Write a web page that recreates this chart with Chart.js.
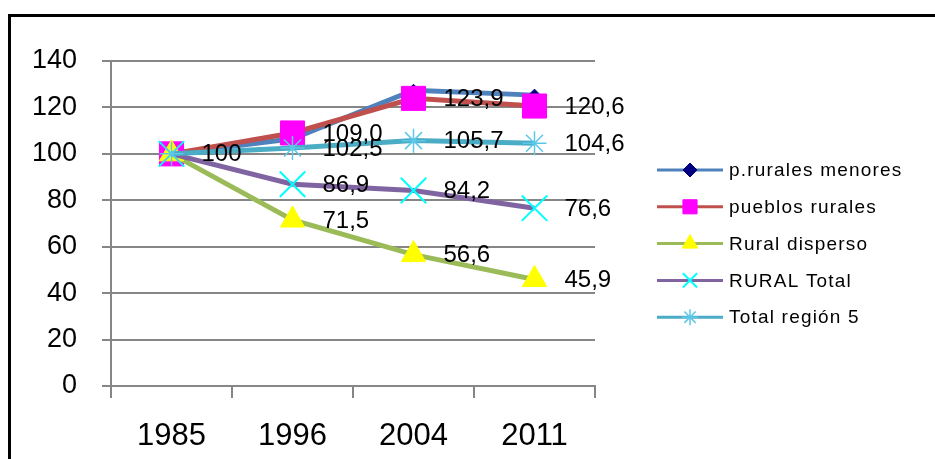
<!DOCTYPE html>
<html>
<head>
<meta charset="utf-8">
<script src="https://cdn.jsdelivr.net/npm/chart.js@4"></script>
<style>
  html, body { margin: 0; padding: 0; background: #fff; }
  #wrap { position: relative; width: 935px; height: 459px; }
</style>
</head>
<body>
<div id="wrap"><canvas id="indexChart" width="935" height="459"></canvas></div>
<script>
// Índice de población (1985 = 100)
const years = ['1985', '1996', '2004', '2011'];
const pRuralesMenores = [100, 106.5, 127.4, 125.3];
const pueblosRurales = [100, 109.0, 123.9, 120.6];
const ruralDisperso = [100, 71.5, 56.6, 45.9];
const ruralTotal = [100, 86.9, 84.2, 76.6];
const totalRegion5 = [100, 102.5, 105.7, 104.6];
const yMin = 0, yMax = 140, yStep = 20;

const FONT = '"Liberation Sans", Arial, sans-serif';
const GRID = '#868686';

const fmt = v => v === 100 ? '100' : v.toFixed(1).replace('.', ',');

// frame round the chart
const framePlugin = {
    id: 'frame',
    beforeDraw(chart) {
        const c = chart.ctx;
        c.save();
        c.fillStyle = '#fff';
        c.fillRect(0, 0, chart.width, chart.height);
        c.strokeStyle = '#000';
        c.lineWidth = 3;
        c.beginPath();
        c.moveTo(9.5, chart.height);
        c.lineTo(9.5, 15.5);
        c.lineTo(chart.width, 15.5);
        c.stroke();
        c.restore();
    }
};

// value labels to the right of the points
const valueLabels = {
    id: 'valueLabels',
    afterDatasetsDraw(chart) {
        const c = chart.ctx;
        const seen = new Set();
        c.save();
        c.font = '24px ' + FONT;
        c.fillStyle = '#000';
        c.textAlign = 'left';
        c.textBaseline = 'middle';
        chart.data.datasets.forEach((ds, i) => {
            if (!ds.showValues) return;
            chart.getDatasetMeta(i).data.forEach((pt, j) => {
                const txt = fmt(ds.data[j]);
                const key = Math.round(pt.x) + ',' + Math.round(pt.y) + ',' + txt;
                if (seen.has(key)) return;
                seen.add(key);
                c.fillText(txt, pt.x + 30, pt.y + 1);
            });
        });
        c.restore();
    }
};

// legend: line with marker, then the series name
const lineLegend = {
    id: 'lineLegend',
    afterDraw(chart) {
        const c = chart.ctx;
        const x0 = 657, x1 = 723, y0 = 170, step = 36.8;
        c.save();
        chart.data.datasets.forEach((ds, i) => {
            const y = y0 + i * step;
            c.strokeStyle = ds.borderColor;
            c.lineWidth = 3;
            c.beginPath();
            c.moveTo(x0, y);
            c.lineTo(x1, y);
            c.stroke();
            c.fillStyle = ds.pointBackgroundColor;
            c.strokeStyle = ds.pointBorderColor;
            c.lineWidth = ds.pointBorderWidth;
            Chart.helpers.drawPoint(c, {
                pointStyle: ds.pointStyle,
                radius: ds.legendRadius,
                rotation: 0,
                borderWidth: ds.pointBorderWidth
            }, (x0 + x1) / 2, y);
            c.fillStyle = '#000';
            c.font = '19px ' + FONT;
            c.letterSpacing = '1.2px';
            c.textAlign = 'left';
            c.textBaseline = 'middle';
            c.fillText(ds.label, 729, y + 1);
        });
        c.restore();
    }
};

const ctx = document.getElementById('indexChart').getContext('2d');
const indexChart = new Chart(ctx, {
    type: 'line',
    data: {
        labels: years,
        datasets: [{
            label: 'p.rurales menores',
            data: pRuralesMenores,
            borderColor: '#4F81BD',
            pointStyle: 'rectRot',
            pointRadius: 6,
            legendRadius: 7,
            pointBackgroundColor: '#000080',
            pointBorderColor: '#000080',
            pointBorderWidth: 1,
            order: 5
        }, {
            label: 'pueblos rurales',
            data: pueblosRurales,
            borderColor: '#C0504D',
            pointStyle: 'rect',
            pointRadius: 17,
            legendRadius: 10,
            pointBackgroundColor: '#FF00FF',
            pointBorderColor: '#FF00FF',
            pointBorderWidth: 1,
            showValues: true,
            order: 4
        }, {
            label: 'Rural disperso',
            data: ruralDisperso,
            borderColor: '#9BBB59',
            pointStyle: 'triangle',
            pointRadius: 14,
            legendRadius: 9,
            pointBackgroundColor: '#FFFF00',
            pointBorderColor: '#FFFF00',
            pointBorderWidth: 1,
            showValues: true,
            order: 3
        }, {
            label: 'RURAL Total',
            data: ruralTotal,
            borderColor: '#8064A2',
            pointStyle: 'crossRot',
            pointRadius: 18,
            legendRadius: 10,
            pointBackgroundColor: '#00FFFF',
            pointBorderColor: '#00FFFF',
            pointBorderWidth: 2,
            showValues: true,
            order: 2
        }, {
            label: 'Total región 5',
            data: totalRegion5,
            borderColor: '#4BACC6',
            pointStyle: 'star',
            pointRadius: 12,
            legendRadius: 8,
            pointBackgroundColor: '#5BC8E8',
            pointBorderColor: '#5BC8E8',
            pointBorderWidth: 1.5,
            showValues: true,
            order: 1
        }]
    },
    options: {
        responsive: false,
        animation: false,
        layout: { padding: { top: 61, right: 340, bottom: 0, left: 0 } },
        elements: {
            line: { borderWidth: 5, tension: 0 },
            point: { hoverRadius: 0 }
        },
        plugins: {
            legend: { display: false },
            tooltip: { enabled: false }
        },
        scales: {
            x: {
                offset: true,
                grid: {
                    offset: true,
                    drawOnChartArea: false,
                    drawTicks: true,
                    tickLength: 12,
                    color: GRID,
                    lineWidth: 2
                },
                border: { color: GRID, width: 2 },
                ticks: {
                    color: '#000',
                    padding: 20,
                    maxRotation: 0,
                    font: { family: FONT, size: 31 }
                },
                afterFit(scale) { scale.height = 73; }
            },
            y: {
                min: yMin,
                max: yMax,
                grid: {
                    color: GRID,
                    lineWidth: 2,
                    tickLength: 9
                },
                border: { color: GRID, width: 2 },
                ticks: {
                    stepSize: yStep,
                    color: '#000',
                    padding: 25,
                    font: { family: FONT, size: 27 }
                },
                afterFit(scale) { scale.width = 111; }
            }
        }
    },
    plugins: [framePlugin, valueLabels, lineLegend]
});
</script>
</body>
</html>
